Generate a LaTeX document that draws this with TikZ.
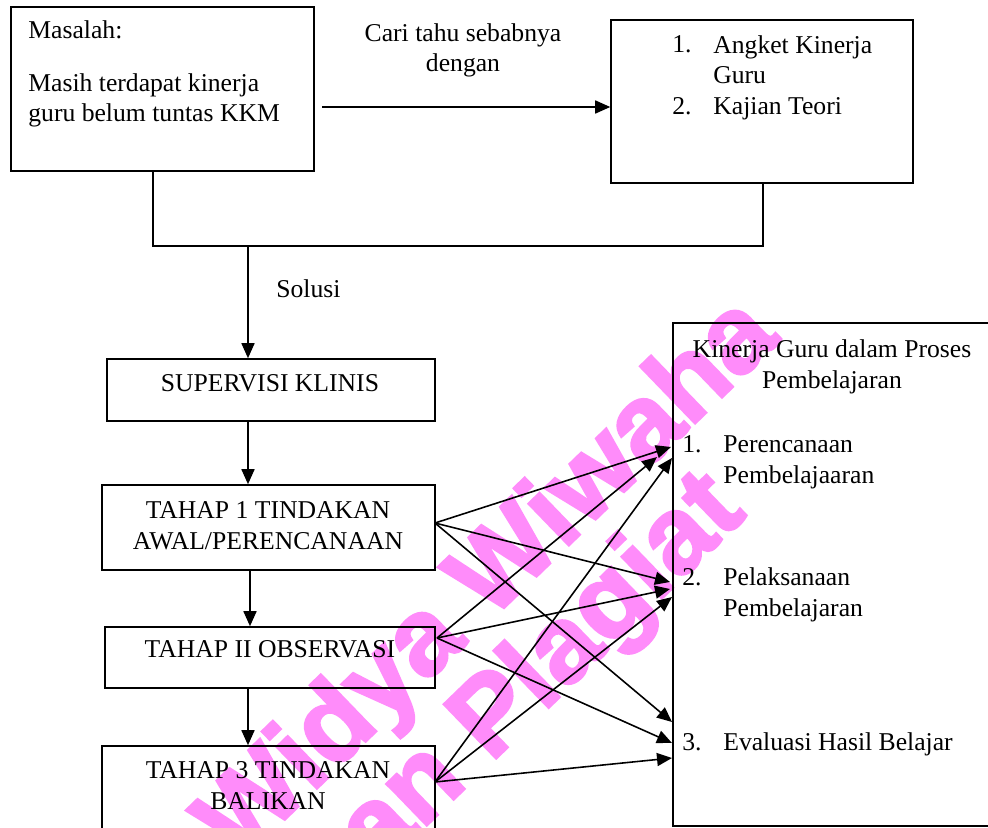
\documentclass[tikz,border=0pt]{standalone}
\usepackage{fontspec}
\setmainfont{Liberation Serif}
\newfontfamily\wmfont[FakeBold=2.5]{Liberation Sans Bold}
\usetikzlibrary{arrows.meta}

\definecolor{wmpink}{RGB}{255,140,250}

\tikzset{
	box/.style={draw, line width=0.9pt, inner sep=0pt},
	txt/.style={anchor=base, inner sep=0pt, font=\fontsize{14.6}{17.6}\selectfont},
	ltxt/.style={txt, anchor=base west, align=left},
	ctxt/.style={txt, align=center},
	arr/.style={-{Triangle[length=3mm,width=2.6mm]}, line width=0.9pt},
	wmark/.style={text=wmpink, inner sep=0pt, rotate=44,
		font=\wmfont\fontsize{62}{62}\selectfont}
}

\begin{document}
\begin{tikzpicture}[x=0.02cm, y=-0.02cm]

		% frame

		\clip (0,0) rectangle (988,828);

		% watermark

		\node[wmark] (wm1) at (490,582) {Widya Wiwaha};

		\node[wmark] (wm2) at (452,762) {Jangan Plagiat};

		% boxes

		\node[box, minimum width=6.06cm, minimum height=3.28cm] (masalah) at (162.5,89) {};

		\node[box, minimum width=6.04cm, minimum height=3.26cm] (angket) at (762,101.5) {};

		\node[box, minimum width=6.56cm, minimum height=1.24cm] (supervisi) at (271,390) {};

		\node[box, minimum width=6.66cm, minimum height=1.70cm] (tahap1) at (268.5,527.5) {};

		\node[box, minimum width=6.60cm, minimum height=1.22cm] (tahap2) at (270,657.5) {};

		\node[box, minimum width=6.66cm, minimum height=1.88cm] (tahap3) at (268.5,793) {};

		\node[box, minimum width=6.40cm, minimum height=10.06cm] (kinerja) at (833,574.5) {};

		% texts (base = last line)

		\node[ltxt] (tmas) at (28,39) {Masalah:};

		\node[ltxt] (tmas2) at (28,122) {Masih terdapat kinerja\\guru belum tuntas KKM};

		\node[ctxt] (tcari) at (463,72) {Cari tahu sebabnya\\dengan};

		\node[ltxt] (tn1) at (672,53) {1.};

		\node[ltxt] (tang) at (713,84) {Angket Kinerja\\Guru};

		\node[ltxt] (tn2) at (672,115) {2.};

		\node[ltxt] (tkaj) at (713,115) {Kajian Teori};

		\node[ltxt] (tsol) at (276,297) {Solusi};

		\node[ctxt] (tsup) at (270,391) {SUPERVISI KLINIS};

		\node[ctxt] (tth1) at (268,549) {TAHAP 1 TINDAKAN\\AWAL/PERENCANAAN};

		\node[ctxt] (tth2) at (270,657) {TAHAP II OBSERVASI};

		\node[ctxt] (tth3) at (268,809) {TAHAP 3 TINDAKAN\\BALIKAN};

		\node[ctxt] (tkin) at (832,388) {Kinerja Guru dalam Proses\\Pembelajaran};

		\node[ltxt] (tk1) at (682,452) {1.};

		\node[ltxt] (tper) at (723,483) {Perencanaan\\Pembelajaaran};

		\node[ltxt] (tk2) at (682,585) {2.};

		\node[ltxt] (tpel) at (723,616) {Pelaksanaan\\Pembelajaran};

		\node[ltxt] (tk3) at (682,750) {3.};

		\node[ltxt] (teva) at (723,750) {Evaluasi Hasil Belajar};

		% define point

		\coordinate (m1) at (322,107);

		\coordinate (d1) at (153,246);

		\coordinate (d2) at (763,246);

		\coordinate (d3) at (248,246);

		\coordinate (s1) at (435,523);

		\coordinate (s2) at (437,638);

		\coordinate (s3) at (435,782);

		% top lines

		\draw[arr] (m1) -- (m1 -| angket.west);

		\draw[line width=0.9pt] (masalah.south -| d1) -- (d1) -- (d2) -- (angket.south -| d2);

		\draw[arr] (d3) -- (supervisi.north -| d3);

		% steps

		\draw[arr] (supervisi.south -| d3) -- (tahap1.north -| d3);

		\draw[arr] (tahap1.south -| 250,0) -- (tahap2.north -| 250,0);

		\draw[arr] (tahap2.south -| d3) -- (tahap3.north -| d3);

		% to the right box

		\draw[arr] (s1) -- (671,447);

		\draw[arr] (s1) -- (670,582);

		\draw[arr] (s1) -- (672,722);

		\draw[arr] (s2) -- (657,457);

		\draw[arr] (s2) -- (670,589);

		\draw[arr] (s2) -- (672,743);

		\draw[arr] (s3) -- (672,458);

		\draw[arr] (s3) -- (672,597);

		\draw[arr] (s3) -- (672,758);

	\end{tikzpicture}
\end{document}
